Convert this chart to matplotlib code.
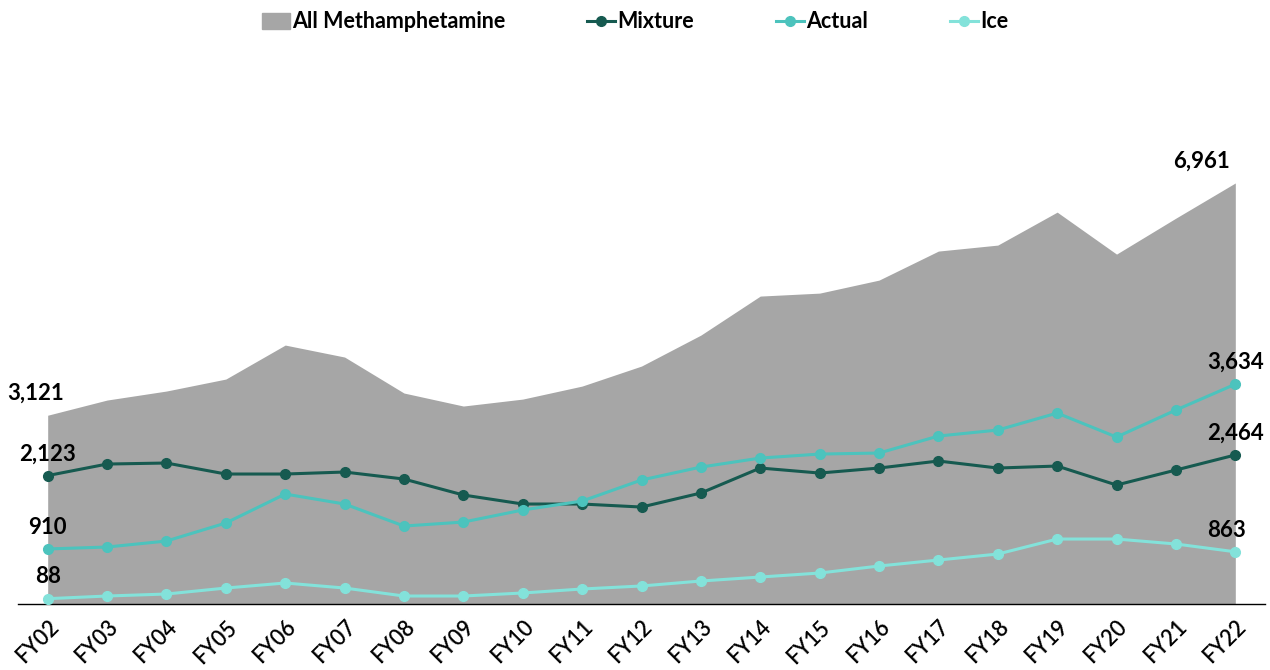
import matplotlib.pyplot as plt
from matplotlib.patches import Patch
from matplotlib.lines import Line2D

plt.rcParams['font.family'] = ['Lato', 'DejaVu Sans']

years = ['FY02', 'FY03', 'FY04', 'FY05', 'FY06', 'FY07', 'FY08', 'FY09', 'FY10', 'FY11',
         'FY12', 'FY13', 'FY14', 'FY15', 'FY16', 'FY17', 'FY18', 'FY19', 'FY20', 'FY21', 'FY22']

total = [3121, 3372, 3521, 3719, 4281, 4083, 3488, 3273, 3388, 3603,
         3934, 4446, 5091, 5140, 5355, 5835, 5934, 6479, 5785, 6380, 6961]
mixture = [2123, 2314, 2331, 2149, 2149, 2182, 2066, 1802, 1653, 1653,
           1603, 1835, 2248, 2165, 2248, 2364, 2248, 2281, 1967, 2215, 2464]
actual = [910, 942, 1041, 1339, 1818, 1653, 1289, 1355, 1554, 1702,
          2050, 2264, 2413, 2479, 2496, 2777, 2876, 3157, 2760, 3207, 3634]
ice = [88, 132, 165, 264, 347, 264, 132, 132, 182, 248,
       298, 380, 446, 512, 628, 727, 826, 1074, 1074, 992, 863]

c_total = '#a6a6a6'
c_mix = '#165a50'
c_act = '#4cc3bd'
c_ice = '#83e2da'

fig = plt.figure(figsize=(12.7, 6.7), dpi=100)
ax = fig.add_axes([18 / 1270, 66 / 670, 1247 / 1270, 564 / 670])

x = list(range(len(years)))
ax.fill_between(x, total, color=c_total, lw=0, zorder=1)
for vals, col in [(mixture, c_mix), (actual, c_act), (ice, c_ice)]:
    ax.plot(x, vals, color=col, lw=2.2, marker='o', ms=7, zorder=3)

ax.set_xlim(-0.5, 20.5)
ax.set_ylim(0, 9325)
ax.set_xticks(x)
ax.set_xticklabels(years, rotation=45, ha='right', rotation_mode='anchor',
                   fontsize=15.5, fontweight='semibold')
ax.tick_params(axis='x', length=0, pad=9)
ax.set_yticks([])
for s in ['top', 'right', 'left']:
    ax.spines[s].set_visible(False)
ax.spines['bottom'].set_color('black')
ax.spines['bottom'].set_linewidth(1)

lab = dict(fontsize=16, fontweight='bold', ha='center', textcoords='offset points')
ax.annotate(f'{total[0]:,}', (0, total[0]), xytext=(-9, 11), **lab)
ax.annotate(f'{total[-1]:,}', (20, total[-1]), xytext=(-24, 11), **lab)
for vals in [mixture, actual, ice]:
    ax.annotate(f'{vals[0]:,}', (0, vals[0]), xytext=(0, 11), **lab)
ax.annotate(f'{mixture[-1]:,}', (20, mixture[-1]), xytext=(0, 11), **lab)
ax.annotate(f'{actual[-1]:,}', (20, actual[-1]), xytext=(0, 11), **lab)
ax.annotate(f'{ice[-1]:,}', (20, ice[-1]), xytext=(-6, 11), **lab)

handles = [Patch(color=c_total, label='All Methamphetamine'),
           Line2D([], [], color=c_mix, lw=2.2, marker='o', ms=7, label='Mixture'),
           Line2D([], [], color=c_act, lw=2.2, marker='o', ms=7, label='Actual'),
           Line2D([], [], color=c_ice, lw=2.2, marker='o', ms=7, label='Ice')]
fig.legend(handles=handles, loc='center', bbox_to_anchor=(0.5, 1 - 22 / 670), ncol=4,
           frameon=False, prop={'size': 15.5, 'weight': 'bold'}, handlelength=1.3,
           handletextpad=0.1, columnspacing=3.8)

fig.savefig('out.png', dpi=100)
